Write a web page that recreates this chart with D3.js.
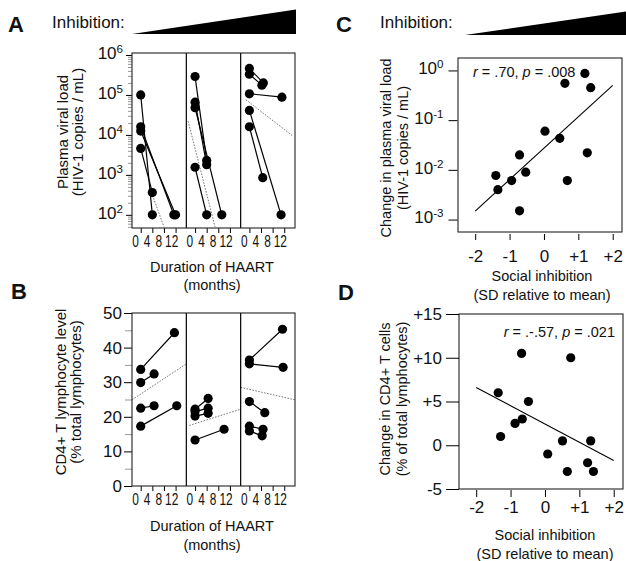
<!DOCTYPE html>
<html>
<head>
<meta charset="utf-8">
<script src="https://cdn.jsdelivr.net/npm/d3@7"></script>
<style>
  body { margin: 0; background: #fff; }
  text { font-family: "Liberation Sans", Arial, Helvetica, sans-serif; fill: #111; }
</style>
</head>
<body>
<script>
// ---- values ----
var monthTicks = [0, 4, 8, 12];

// A: plasma viral load, baseline (month 0) -> follow-up, one array per inhibition group
var vlStart = [[1.0e5, 1.6e4, 1.25e4, 4.6e3], [2.9e5, 6.6e4, 4.8e4, 1.55e3], [4.6e5, 3.3e5, 1.07e5, 4.1e4, 1.6e4]];
var vlEnd = [[100, 100, 100, 360], [2.3e3, 1.8e3, 100, 100], [2.0e5, 1.75e5, 8.8e4, 100, 850]];
var vlEndMonth = [[4, 11.4, 12, 4], [4, 4, 9.2, 4], [4.8, 4.3, 11.2, 10.9, 4.6]];
// dotted group trend: [month1, value1, month2, value2]
var vlTrend = [[3, 500, 8, 50], [-2.4, 2.2e4, 6.9, 50], [-1.2, 7.6e4, 15, 9.3e3]];

// B: CD4+ T lymphocyte level (%)
var cd4Start = [[33.7, 29.9, 22.5, 17.3], [22.2, 21.5, 20.2, 13.3], [36.4, 35.3, 24.4, 17.3, 15.9]];
var cd4End = [[44.3, 32.4, 23.2, 23.2], [25.3, 22.5, 21.0, 16.4], [45.3, 34.3, 21.2, 16.4, 14.5]];
var cd4EndMonth = [[11.6, 4.6, 4.6, 12.4], [4.5, 4.5, 4.5, 10], [11.4, 11.6, 5.3, 4.7, 4.4]];
var cd4Trend = [[-3, 24.9, 15.7, 35.3], [-2, 17.5, 15.7, 22.2], [-3, 28.5, 15.7, 24.9]];

// C: change in viral load vs social inhibition
var siC = [-1.40, -1.34, -0.94, -0.71, -0.71, -0.53, 0.03, 0.46, 0.61, 0.68, 1.19, 1.26, 1.36];
var vlChange = [0.0077, 0.0040, 0.0061, 0.020, 0.0015, 0.0090, 0.060, 0.043, 0.55, 0.0061, 0.87, 0.022, 0.45];
var vlFit = [[-2, 0.00148], [2, 0.5]];

// D: change in CD4+ vs social inhibition
var siD = [-1.36, -1.29, -0.87, -0.68, -0.66, -0.48, 0.08, 0.51, 0.65, 0.75, 1.24, 1.33, 1.41];
var cd4Change = [6.0, 1.0, 2.5, 10.5, 3.0, 5.0, -1.0, 0.5, -3.0, 10.0, -2.0, 0.5, -3.0];
var cd4Fit = [[-2, 6.6], [2, -1.75]];

var siTicks = [-2, -1, 0, 1, 2];

// ---- drawing ----
var W = 626, H = 561;
var R = 4.6;
var svg = d3.select("body").append("svg").attr("width", W).attr("height", H);

function supLabel(sel, base, size) {
    // replace axis labels by "10" + superscript exponent
    sel.selectAll(".tick text").each(function (d) {
        var t = d3.select(this).text("");
        t.append("tspan").text(base).style("font-size", size + "px");
        t.append("tspan").attr("dy", "-0.5em")
            .text(String(Math.round(Math.log10(d))))
            .style("font-size", (size * 0.68) + "px");
    });
}

function wedge(x1, x2, yb, yt) {
    svg.append("polygon")
        .attr("points", x1 + "," + yb + " " + x2 + "," + yt + " " + x2 + "," + yb)
        .style("fill", "#000");
}

function panelLetter(t, x, y) {
    svg.append("text").attr("x", x).attr("y", y).text(t)
        .style("font-size", "22px").style("font-weight", "bold");
}

function vTitle(lines, cy, size) {
    lines.forEach(function (l) {
        svg.append("text")
            .attr("transform", "translate(" + l[1] + "," + cy + ") rotate(-90)")
            .attr("text-anchor", "middle")
            .text(l[0]).style("font-size", size + "px");
    });
}

function hTitle(lines, cx, size) {
    lines.forEach(function (l) {
        svg.append("text").attr("x", cx).attr("y", l[1]).attr("text-anchor", "middle")
            .text(l[0]).style("font-size", size + "px");
    });
}

// ===== panels A & B (three sub-panels each) =====
var bx = 132, bw = 163, sw = bw / 3;
var monthDomain = [-3, 15.7];
var squeeze = 0.7; // month labels are set in a condensed face

function subX(i) {
    return d3.scaleLinear().domain(monthDomain).range([bx + i * sw, bx + (i + 1) * sw]);
}

function drawSmallMultiples(yScale, top, bottom, starts, ends, endMonths, trends) {
    var g = svg.append("g");
    for (var i = 0; i < 3; i++) {
        var xs = subX(i);
        var tr = trends[i];
        g.append("line")
            .attr("x1", xs(tr[0])).attr("y1", yScale(tr[1]))
            .attr("x2", xs(tr[2])).attr("y2", yScale(tr[3]))
            .style("stroke", "#555").style("stroke-width", 0.8)
            .style("stroke-dasharray", "1.6,1.4");

        starts[i].forEach(function (v, k) {
            g.append("line")
                .attr("x1", xs(0)).attr("y1", yScale(v))
                .attr("x2", xs(endMonths[i][k])).attr("y2", yScale(ends[i][k]))
                .style("stroke", "#000").style("stroke-width", 1.2);
        });
        starts[i].forEach(function (v, k) {
            g.append("circle").attr("cx", xs(0)).attr("cy", yScale(v)).attr("r", R).style("fill", "#000");
            g.append("circle").attr("cx", xs(endMonths[i][k])).attr("cy", yScale(ends[i][k])).attr("r", R).style("fill", "#000");
        });

        var ax = svg.append("g")
            .attr("transform", "translate(0," + bottom + ")")
            .call(d3.axisBottom(xs).tickValues(monthTicks).tickSize(5).tickPadding(2));
        ax.select(".domain").remove();
        ax.selectAll(".tick text")
            .style("font-size", "17px")
            .attr("text-anchor", "start")
            .attr("transform", "scale(" + squeeze + ",1)")
            .attr("x", function (d) { return (d === 12 ? -11 : -9) / squeeze; });

        if (i > 0) {
            svg.append("line").attr("x1", bx + i * sw).attr("x2", bx + i * sw)
                .attr("y1", top).attr("y2", bottom).style("stroke", "#000").style("stroke-width", 1.2);
        }
    }
    svg.append("rect").attr("x", bx).attr("y", top).attr("width", bw).attr("height", bottom - top)
        .style("fill", "none").style("stroke", "#222").style("stroke-width", 1.1);
}

// --- A ---
var aTop = 53, aBot = 228;
var yA = d3.scaleLog().domain([Math.pow(10, 1.67), Math.pow(10, 6.05)]).range([aBot, aTop]);
var minorA = [];
for (var e = 1; e <= 5; e++) for (var m = 2; m <= 9; m++) {
    var v = m * Math.pow(10, e);
    if (v >= yA.domain()[0] && v <= yA.domain()[1]) minorA.push(v);
}
var aMinor = svg.append("g").attr("transform", "translate(" + bx + ",0)")
    .call(d3.axisLeft(yA).tickValues(minorA).tickSize(4).tickFormat(""));
aMinor.select(".domain").remove();
aMinor.selectAll("line").style("stroke", "#999");
var aMajor = svg.append("g").attr("transform", "translate(" + bx + ",0)")
    .call(d3.axisLeft(yA).tickValues([1e2, 1e3, 1e4, 1e5, 1e6]).tickSize(6).tickPadding(3));
aMajor.select(".domain").remove();
supLabel(aMajor, "10", 17);

drawSmallMultiples(yA, aTop, aBot, vlStart, vlEnd, vlEndMonth, vlTrend);

panelLetter("A", 8, 32);
svg.append("text").attr("x", 52).attr("y", 28).text("Inhibition:").style("font-size", "17px");
wedge(132, 296, 34, 9.5);
vTitle([["Plasma viral load", 68], ["(HIV-1 copies / mL)", 83]], 132, 15);
hTitle([["Duration of HAART", 272], ["(months)", 290]], 212, 14.5);

// --- B ---
var bTop = 313, bBot = 486;
var yB = d3.scaleLinear().domain([0, 50]).range([bBot, bTop]);
var bMinor = svg.append("g").attr("transform", "translate(" + bx + ",0)")
    .call(d3.axisLeft(yB).tickValues([5, 15, 25, 35, 45]).tickSize(7).tickFormat(""));
bMinor.select(".domain").remove();
bMinor.selectAll("line").style("stroke", "#999");
var bMajor = svg.append("g").attr("transform", "translate(" + bx + ",0)")
    .call(d3.axisLeft(yB).tickValues([0, 10, 20, 30, 40, 50]).tickSize(8).tickPadding(2));
bMajor.select(".domain").remove();
bMajor.selectAll(".tick text").style("font-size", "17px");

drawSmallMultiples(yB, bTop, bBot, cd4Start, cd4End, cd4EndMonth, cd4Trend);

panelLetter("B", 11, 299);
vTitle([["CD4+ T lymphocyte level", 66], ["(% total lymphocytes)", 81]], 392, 15);
hTitle([["Duration of HAART", 531], ["(months)", 550]], 212, 14.5);

// ===== panel C =====
var cL = 458, cR = 622, cTop = 58, cBot = 232;
var xC = d3.scaleLinear().domain([-2.5, 2.27]).range([cL, cR]);
var yC = d3.scaleLog().domain([Math.pow(10, -3.25), Math.pow(10, 0.25)]).range([cBot, cTop]);
function siFmt(d) { return d > 0 ? "+" + d : String(d); }

svg.append("rect").attr("x", cL).attr("y", cTop).attr("width", cR - cL).attr("height", cBot - cTop)
    .style("fill", "none").style("stroke", "#222").style("stroke-width", 1.1);
var cy = svg.append("g").attr("transform", "translate(" + (cL - 0.5) + ",0)")
    .call(d3.axisLeft(yC).tickValues([1e-3, 1e-2, 1e-1, 1]).tickSize(9).tickPadding(5));
cy.select(".domain").remove();
supLabel(cy, "10", 17);
var cxAx = svg.append("g").attr("transform", "translate(0," + (cBot + 2) + ")")
    .call(d3.axisBottom(xC).tickValues(siTicks).tickSize(6).tickPadding(10).tickFormat(siFmt));
cxAx.select(".domain").remove();
cxAx.selectAll(".tick text").style("font-size", "17px");

svg.append("line")
    .attr("x1", xC(vlFit[0][0])).attr("y1", yC(vlFit[0][1]))
    .attr("x2", xC(vlFit[1][0])).attr("y2", yC(vlFit[1][1]))
    .style("stroke", "#000").style("stroke-width", 1.1);
svg.append("g").selectAll("circle").data(siC).join("circle")
    .attr("cx", function (d) { return xC(d); })
    .attr("cy", function (d, i) { return yC(vlChange[i]); })
    .attr("r", R).style("fill", "#000");

var rC = svg.append("text").attr("x", 473).attr("y", 77).style("font-size", "14.5px");
rC.append("tspan").text("r").style("font-style", "italic");
rC.append("tspan").text(" = .70, ");
rC.append("tspan").text("p").style("font-style", "italic");
rC.append("tspan").text(" = .008");

panelLetter("C", 336, 32);
svg.append("text").attr("x", 380).attr("y", 28).text("Inhibition:").style("font-size", "17px");
wedge(465, 629, 35, 11);
vTitle([["Change in plasma viral load", 391], ["(HIV-1 copies / mL)", 408]], 148, 14.5);
hTitle([["Social inhibition", 281], ["(SD relative to mean)", 300]], 542, 14.5);

// ===== panel D =====
var dL = 459, dR = 623, dTop = 314, dBot = 489;
var xD = d3.scaleLinear().domain([-2.5, 2.27]).range([dL, dR]);
var yD = d3.scaleLinear().domain([-5, 15]).range([dBot, dTop]);

svg.append("rect").attr("x", dL).attr("y", dTop).attr("width", dR - dL).attr("height", dBot - dTop)
    .style("fill", "none").style("stroke", "#222").style("stroke-width", 1.1);
var dy = svg.append("g").attr("transform", "translate(" + dL + ",0)")
    .call(d3.axisLeft(yD).tickValues([-5, 0, 5, 10, 15]).tickSize(13).tickPadding(4).tickFormat(siFmt));
dy.select(".domain").remove();
dy.selectAll(".tick text").style("font-size", "17px");
var dxAx = svg.append("g").attr("transform", "translate(0," + (dBot + 1) + ")")
    .call(d3.axisBottom(xD).tickValues(siTicks).tickSize(7).tickPadding(4).tickFormat(siFmt));
dxAx.select(".domain").remove();
dxAx.selectAll(".tick text").style("font-size", "17px");

svg.append("line")
    .attr("x1", xD(cd4Fit[0][0])).attr("y1", yD(cd4Fit[0][1]))
    .attr("x2", xD(cd4Fit[1][0])).attr("y2", yD(cd4Fit[1][1]))
    .style("stroke", "#000").style("stroke-width", 1.1);
svg.append("g").selectAll("circle").data(siD).join("circle")
    .attr("cx", function (d) { return xD(d); })
    .attr("cy", function (d, i) { return yD(cd4Change[i]); })
    .attr("r", R).style("fill", "#000");

var rD = svg.append("text").attr("x", 615).attr("y", 337).attr("text-anchor", "end").style("font-size", "14.5px");
rD.append("tspan").text("r").style("font-style", "italic");
rD.append("tspan").text(" = .-.57, ");
rD.append("tspan").text("p").style("font-style", "italic");
rD.append("tspan").text(" = .021");

panelLetter("D", 338, 300);
vTitle([["Change in CD4+ T cells", 390], ["(% of total lymphocytes)", 407]], 399, 14.5);
hTitle([["Social inhibition", 540], ["(SD relative to mean)", 559]], 545, 14.5);
</script>
</body>
</html>
